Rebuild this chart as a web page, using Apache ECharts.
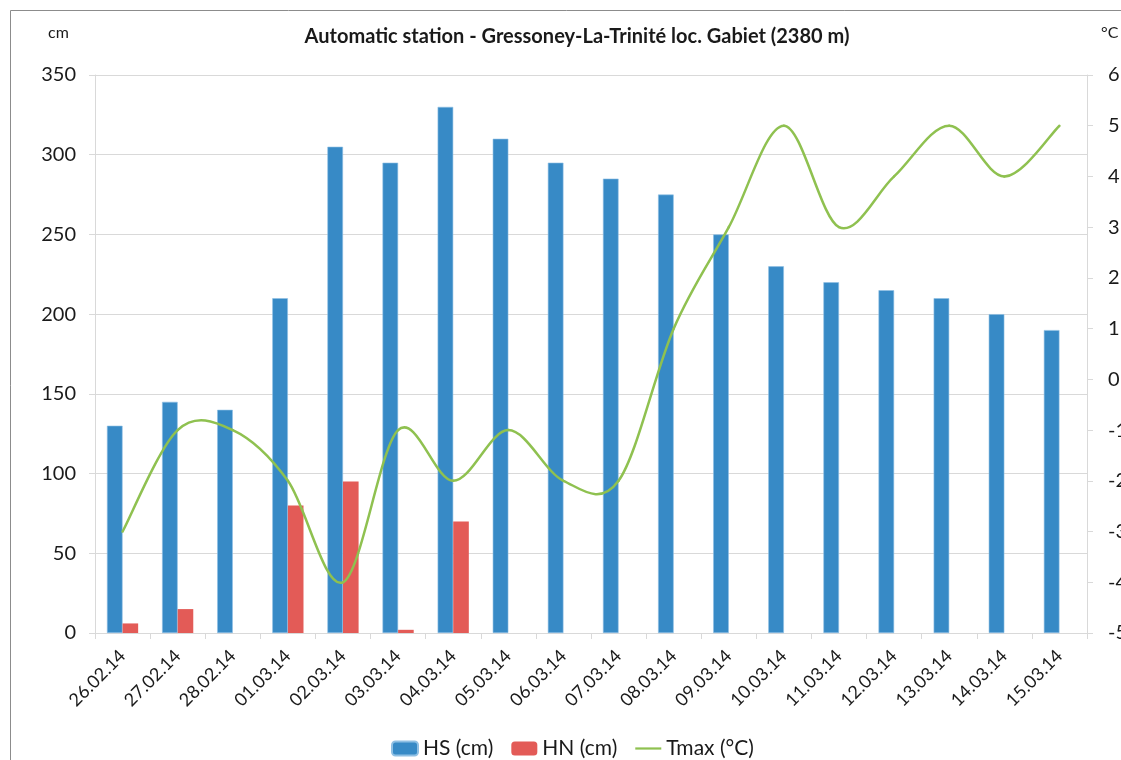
<!DOCTYPE html>
<html>
<head>
<meta charset="utf-8">
<script src="https://cdn.jsdelivr.net/npm/echarts@6/dist/echarts.min.js"></script>
<style>
  html, body { margin: 0; padding: 0; background: #fff; }
  #chart { width: 1121px; height: 760px; }
</style>
</head>
<body>
<div id="chart"></div>
<script>
// Daily observations, Gressoney-La-Trinité, loc. Gabiet
const days = ['26.02.14', '27.02.14', '28.02.14', '01.03.14', '02.03.14', '03.03.14',
  '04.03.14', '05.03.14', '06.03.14', '07.03.14', '08.03.14', '09.03.14',
  '10.03.14', '11.03.14', '12.03.14', '13.03.14', '14.03.14', '15.03.14'];
// snow depth (cm)
const hs = [130, 145, 140, 210, 305, 295, 330, 310, 295, 285, 275, 250, 230, 220, 215, 210, 200, 190];
// fresh snow (cm)
const hn = [6, 15, 0, 80, 95, 2, 70, 0, 0, 0, 0, 0, 0, 0, 0, 0, 0, 0];
// maximum air temperature (°C)
const tmax = [-3, -1, -1, -2, -4, -1, -2, -1, -2, -2, 1, 3, 5, 3, 4, 5, 4, 5];

const FONT = 'Lato, "Open Sans", sans-serif';
const TXT = '#1a1a1a';
const GRID_GRAY = '#d9d9d9';
const BLUE = '#378ac6';
const RED = '#e35b57';
const GREEN = '#8fc150';

const chart = echarts.init(document.getElementById('chart'), null, { renderer: 'canvas' });

// Temperature curve: Catmull-Rom style cubic segments between consecutive days,
// every point placed through the axis scales with api.coord.
function renderTmaxSegment(params, api) {
  const i = params.dataIndex;
  const n = tmax.length;
  if (i >= n - 1) return null;
  const pt = k => {
    const j = Math.max(0, Math.min(n - 1, k));
    return api.coord([j, tmax[j]]);
  };
  const p0 = pt(i - 1), p1 = pt(i), p2 = pt(i + 1), p3 = pt(i + 2);
  const t = 1 / 6;
  return {
    type: 'bezierCurve',
    shape: {
      x1: p1[0], y1: p1[1], x2: p2[0], y2: p2[1],
      cpx1: p1[0] + (p2[0] - p0[0]) * t, cpy1: p1[1] + (p2[1] - p0[1]) * t,
      cpx2: p2[0] - (p3[0] - p1[0]) * t, cpy2: p2[1] - (p3[1] - p1[1]) * t
    },
    style: { stroke: GREEN, lineWidth: 2.5, fill: null, lineCap: 'round' }
  };
}

chart.setOption({
  backgroundColor: '#fff',
  animation: false,
  textStyle: { fontFamily: FONT, color: TXT },
  title: {
    text: 'Automatic station - Gressoney-La-Trinité loc. Gabiet (2380 m)',
    left: 572, top: 22, textAlign: 'center',
    textStyle: { fontFamily: FONT, fontSize: 20, fontWeight: 'bold', color: TXT }
  },
  graphic: [
    { type: 'rect', shape: { x: 10.5, y: 10.5, width: 1200, height: 800 },
      style: { fill: 'none', stroke: '#8c8c8c', lineWidth: 1 }, silent: true },
    { type: 'text', left: 48, top: 25,
      style: { text: 'cm', fontFamily: FONT, fontSize: 16, fill: TXT } },
    { type: 'text', left: 1101, top: 25,
      style: { text: '°C', fontFamily: FONT, fontSize: 16, fill: TXT } }
  ],
  legend: {
    top: 733, left: 386,
    itemWidth: 26, itemHeight: 14, itemGap: 18,
    textStyle: { fontFamily: FONT, fontSize: 21, color: TXT },
    data: [
      'HS (cm)',
      'HN (cm)',
      { name: 'Tmax (°C)', icon: 'path://M0,0 L28,0 L28,2.4 L0,2.4 Z', itemStyle: { color: GREEN } }
    ]
  },
  grid: { left: 95, right: 34, top: 75, bottom: 127, containLabel: false, outerBoundsMode: 'none' },
  xAxis: {
    type: 'category', data: days,
    axisLine: { lineStyle: { color: GRID_GRAY } },
    axisTick: { show: true, alignWithLabel: false, lineStyle: { color: GRID_GRAY }, length: 6 },
    axisLabel: { rotate: 45, fontSize: 18, color: TXT, fontFamily: FONT, margin: 20, interval: 0 }
  },
  yAxis: [
    {
      type: 'value', min: 0, max: 350, interval: 50, position: 'left',
      axisLine: { show: true, lineStyle: { color: GRID_GRAY } },
      axisTick: { show: true, length: 6, lineStyle: { color: GRID_GRAY } },
      splitLine: { show: true, lineStyle: { color: GRID_GRAY } },
      axisLabel: { fontSize: 20, color: TXT, fontFamily: FONT, margin: 19 }
    },
    {
      type: 'value', min: -5, max: 6, interval: 1, position: 'right',
      axisLine: { show: true, lineStyle: { color: GRID_GRAY } },
      axisTick: { show: true, length: 6, lineStyle: { color: GRID_GRAY } },
      splitLine: { show: false },
      axisLabel: { fontSize: 20, color: TXT, fontFamily: FONT, margin: 21 }
    }
  ],
  series: [
    {
      name: 'HS (cm)', type: 'bar', data: hs, yAxisIndex: 0,
      barWidth: 15.6, barGap: '0%',
      itemStyle: { color: BLUE, borderColor: '#8fc0e4', borderWidth: 0.6 }
    },
    {
      name: 'HN (cm)', type: 'bar', data: hn, yAxisIndex: 0,
      barWidth: 15.6, barGap: '0%',
      itemStyle: { color: RED }
    },
    {
      name: 'Tmax (°C)', type: 'custom', yAxisIndex: 1,
      data: tmax.map((v, i) => [i, v]),
      encode: { x: 0, y: 1 },
      itemStyle: { color: GREEN },
      renderItem: renderTmaxSegment,
      z: 3
    }
  ]
});
</script>
</body>
</html>
